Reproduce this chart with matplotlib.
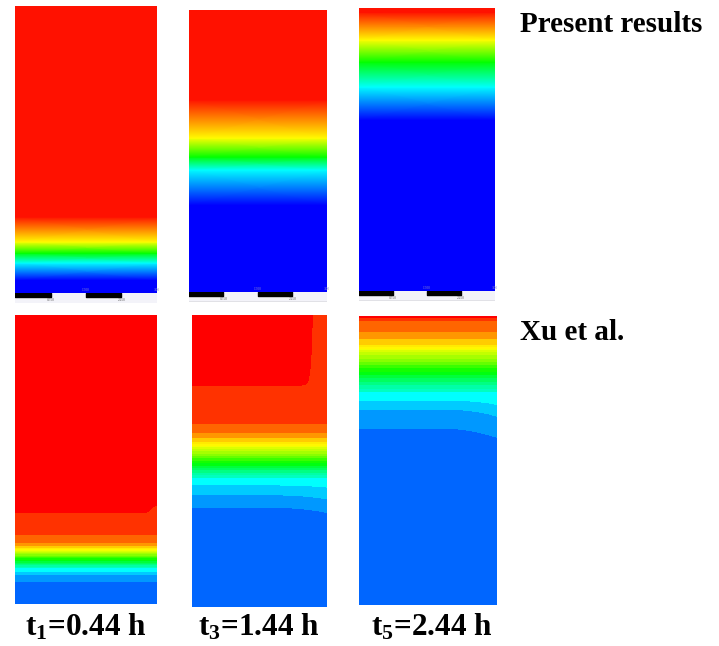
import numpy as np
import matplotlib
matplotlib.use("Agg")
import matplotlib.pyplot as plt
from matplotlib.colors import LinearSegmentedColormap, Normalize

plt.rcParams["font.family"] = ["Liberation Serif", "DejaVu Serif"]
plt.rcParams["mathtext.fontset"] = "custom"
plt.rcParams["mathtext.rm"] = "Liberation Serif"
plt.rcParams["mathtext.bf"] = "Liberation Serif:bold"

W, H = 719, 646

# ---- data ----------------------------------------------------------------
TIMES = ["1", "3", "5"]
TIME_H = ["0.44", "1.44", "2.44"]

# present results: smooth profiles, (height fraction from bottom, scaled value)
TOP_Z = [
    [0.0, 0.045, 0.105, 0.139, 0.178, 0.265, 1.0],
    [0.0, 0.309, 0.433, 0.479, 0.546, 0.681, 1.0],
    [0.0, 0.604, 0.721, 0.809, 0.887, 0.985, 1.0],
]
TOP_V = [0.0, 0.0, 0.25, 0.5, 0.75, 1.0, 1.0]

# Xu et al.: height fraction of the 12 band edges (blue -> red)
XU_EDGES = [
    [0.076, 0.100, 0.111, 0.125, 0.142, 0.163, 0.180, 0.194, 0.201, 0.211, 0.239, 0.315],
    [0.342, 0.384, 0.418, 0.442, 0.476, 0.510, 0.541, 0.565, 0.579, 0.596, 0.627, 0.760],
    [0.612, 0.678, 0.709, 0.737, 0.785, 0.830, 0.875, 0.900, 0.920, 0.945, 0.983, 0.993],
]
XU_TOP = [13.0, 16.0, 12.0]
XU_HOT_DROP = [0.1, 1.0, 0.0]      # cooling of the hot zone at the right wall
XU_HOT_X = [0.95, 0.865, 0.9]
XU_BEND = [0.0, 0.018, 0.031]       # droop of the cold bands at the right wall

BAND_COLORS = ["#0066ff", "#0099ff", "#00ccff", "#00ffff", "#00ff99", "#00ff00",
               "#99ff00", "#ffff00", "#ffcc00", "#ff9900", "#ff6600", "#ff3300", "#ff0000"]

# panel boxes in pixels (x0, y0, x1, y1)
TOP_BOX = [(15, 6, 157, 293), (189, 10, 327, 292), (359, 8, 495, 291)]
BOT_BOX = [(15, 315, 157, 604), (192, 315, 327, 607), (359, 316, 497, 605)]
LABEL_X = [86, 259, 432]

top_cmap = LinearSegmentedColormap.from_list(
    "fluent", ["#0000ff", "#00ffff", "#00ff00", "#ffff00", "#ff1100"])
band_cmap = LinearSegmentedColormap.from_list(
    "bands", list(zip(np.linspace(0, 1, 13), BAND_COLORS)))

fig = plt.figure(figsize=(W / 100, H / 100), dpi=100)


def px_axes(x0, y0, x1, y1):
    ax = fig.add_axes([x0 / W, 1 - y1 / H, (x1 - x0) / W, (y1 - y0) / H])
    ax.set_axis_off()
    return ax


def scale_strip(x0, y0, x1, line):
    ax = px_axes(x0, y0, x1, y0 + 10)
    ax.set_xlim(0, 3); ax.set_ylim(0, 1)
    ax.axhspan(0, 1, color="#f3f3f9")
    ax.broken_barh([(0, 0.75), (1.5, 0.75)], (0.6, 0.4), color="black")
    for xv, s in [(0.75, "0.750"), (2.25, "2.250")]:
        ax.text(xv, 0.3, s, fontsize=2.5, ha="center", va="center", color="#555555")
    if line:
        ax.axhline(0.02, color="#999999", lw=1)
    return ax


# present results (smooth)
for i, (x0, y0, x1, y1) in enumerate(TOP_BOX):
    ax = px_axes(x0, y0, x1, y1)
    X, Z = np.meshgrid([0, 1], TOP_Z[i])
    C = np.column_stack([TOP_V, TOP_V])
    ax.pcolormesh(X, Z, C, shading="gouraud", cmap=top_cmap, vmin=0, vmax=1)
    ax.set_xlim(0, 1); ax.set_ylim(0, 1)
    for xv, s in [(1.5, "1.500"), (3.0, "3.00")]:
        ax.text(xv / 3, 0.012, s, fontsize=2.5, ha="center", va="center",
                color="#8888cc", clip_on=False)
    scale_strip(x0, y1, x1, line=(i > 0))

# Xu et al. (banded contours)
xg = np.linspace(0, 1, 300)
zg = np.linspace(0, 1, 600)
X, Z = np.meshgrid(xg, zg)
levels = np.r_[-10, 0.5, 1.5, 2.5, np.arange(3.5, 7.51, 0.25), 8.5, 9.5, 10.5, 11.5, 30]
for i, (x0, y0, x1, y1) in enumerate(BOT_BOX):
    ax = px_axes(x0, y0, x1, y1)
    zs = np.r_[0.0, XU_EDGES[i], 1.0]
    vs = np.r_[0.0, np.arange(12) + 0.5, XU_TOP[i]]
    P0 = np.interp(Z, zs, vs)
    g = np.clip((3.5 - P0) / 3, 0, 1)
    wc = np.clip((X - 0.6) / 0.4, 0, 1) ** 2
    P = np.interp(Z + XU_BEND[i] * wc * g, zs, vs)
    wh = 1 / (1 + np.exp(-(X - XU_HOT_X[i]) / 0.012))
    T = P - XU_HOT_DROP[i] * wh * np.clip(P - 11, 0, None)
    ax.contourf(X, Z, T, levels=levels, cmap=band_cmap, norm=Normalize(0, 12))
    ax.set_xlim(0, 1); ax.set_ylim(0, 1)

fig.text(520 / W, 1 - 25 / H, "Present results", fontsize=21, fontweight="bold",
         ha="left", va="center")
fig.text(520 / W, 1 - 332 / H, "Xu et al.", fontsize=21, fontweight="bold",
         ha="left", va="center")
for xc, n, t in zip(LABEL_X, TIMES, TIME_H):
    fig.text(xc / W, 1 - 635 / H, r"$\mathbf{t_{%s}}$" % n + f"={t} h",
             fontsize=22.5, fontweight="bold", ha="center", va="baseline")

fig.savefig("out.png", dpi=100)
